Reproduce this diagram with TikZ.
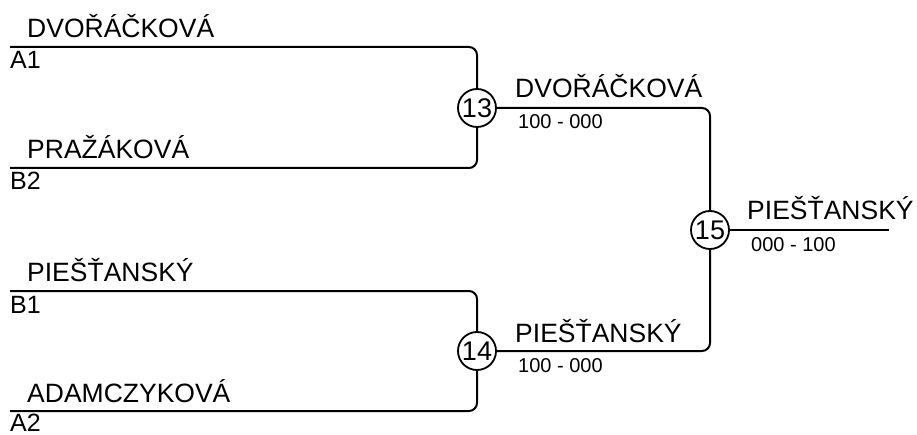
\documentclass[tikz,border=0pt]{standalone}
\usepackage{fontspec}
\setmainfont{Liberation Sans}
\begin{document}
\begin{tikzpicture}[x=1pt,y=-1pt,
  line/.style={line width=2pt,rounded corners=8pt},
  match/.style={circle,draw,line width=1.8pt,minimum size=38pt,inner sep=0pt,font=\fontsize{27}{27}\selectfont},
  pname/.style={anchor=base west,inner sep=0pt,font=\fontsize{26.5}{26.5}\selectfont},
  seed/.style={anchor=base west,inner sep=0pt,font=\fontsize{25}{25}\selectfont},
  score/.style={anchor=base west,inner sep=0pt,font=\fontsize{20}{20}\selectfont}]
\useasboundingbox (0,0) rectangle (917,435);
% match circles
\node[match] (c13) at (477,108) {13};
\node[match] (c14) at (477,351) {14};
\node[match] (c15) at (710,230) {15};
% line starts
\coordinate (s1) at (10,47);
\coordinate (s2) at (10,168);
\coordinate (s3) at (10,291);
\coordinate (s4) at (10,411);
\coordinate (fin) at (889,230);
% connectors
\draw[line] (s1) -| (c13);
\draw[line] (s2) -| (c13);
\draw[line] (s3) -| (c14);
\draw[line] (s4) -| (c14);
\draw[line] (c13) -| (c15);
\draw[line] (c14) -| (c15);
\draw[line] (c15) -- (fin);
% names
\node[pname] (n1) at (27,38) {DVOŘÁČKOVÁ};
\node[seed] (a1) at (10,69) {A1};
\node[pname] (n2) at (27,159) {PRAŽÁKOVÁ};
\node[seed] (b2) at (10,190) {B2};
\node[pname] (n3) at (27,282) {PIEŠŤANSKÝ};
\node[seed] (b1) at (10,313) {B1};
\node[pname] (n4) at (27,402) {ADAMCZYKOVÁ};
\node[seed] (a2) at (10,431) {A2};
% winners
\node[pname] (w13) at (515,98) {DVOŘÁČKOVÁ};
\node[score] (sc13) at (518,129) {100 - 000};
\node[pname] (w14) at (515,342) {PIEŠŤANSKÝ};
\node[score] (sc14) at (518,372) {100 - 000};
\node[pname] (w15) at (747,220) {PIEŠŤANSKÝ};
\node[score] (sc15) at (751,252) {000 - 100};
\end{tikzpicture}
\end{document}
